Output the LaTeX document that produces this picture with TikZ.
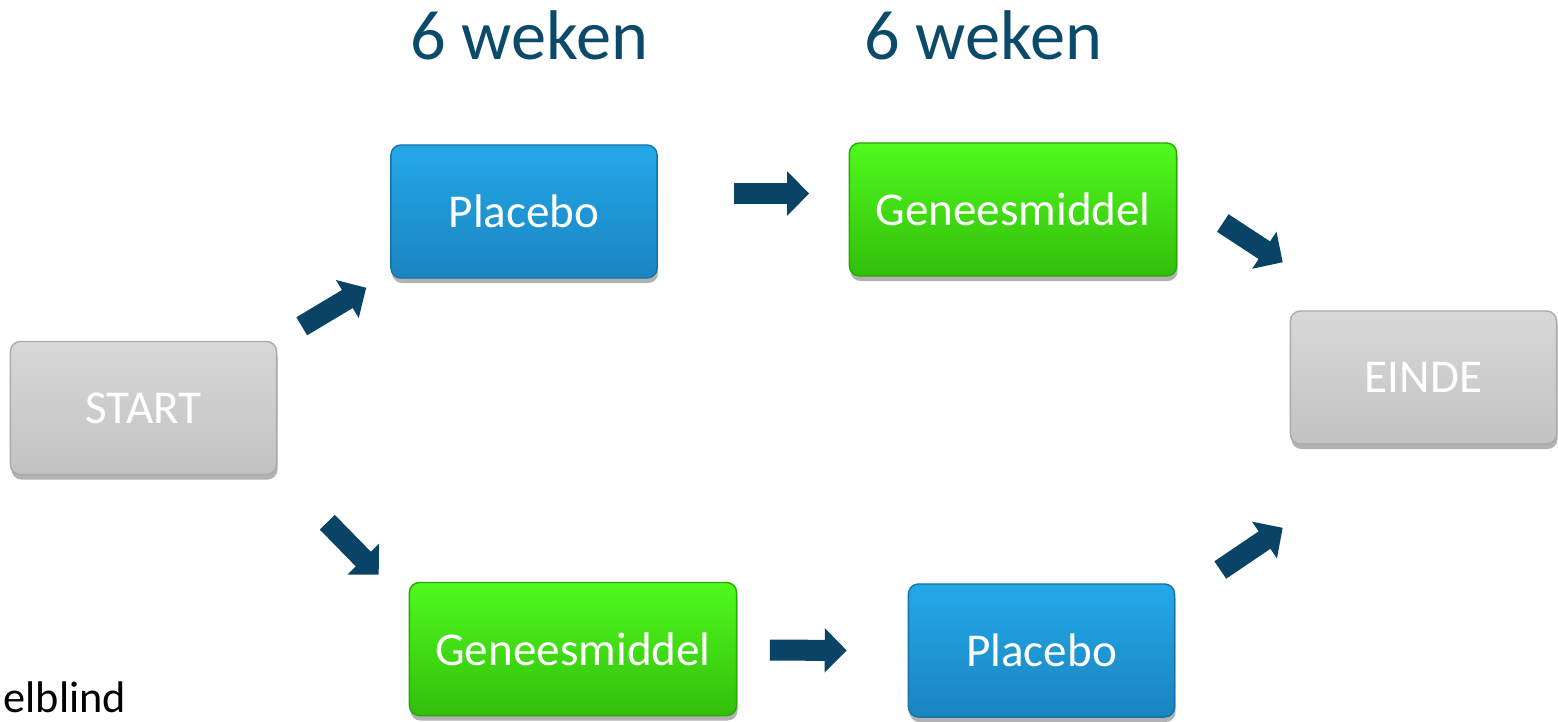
\documentclass[tikz,border=0pt]{standalone}
\usepackage{fontspec}
\setmainfont{Carlito}
\usetikzlibrary{calc, shadows, arrows.meta}
\definecolor{arrowblue}{RGB}{9,68,102}
\definecolor{weekblue}{RGB}{11,74,107}
\tikzstyle{box} = [rounded corners=0.1cm, minimum width=2.66cm, minimum height=1.33cm, text=white, font=\fontsize{13.4}{16}\selectfont, line width=0.4pt, drop shadow={shadow xshift=0.01cm, shadow yshift=-0.05cm, opacity=0.3, fill=black}]
\tikzstyle{placbox} = [box, top color={rgb,255:red,36;green,168;blue,232}, bottom color={rgb,255:red,26;green,132;blue,192}, draw={rgb,255:red,22;green,115;blue,170}]
\tikzstyle{genbox} = [box, minimum width=3.27cm, top color={rgb,255:red,80;green,250;blue,30}, bottom color={rgb,255:red,50;green,190;blue,10}, draw={rgb,255:red,44;green,165;blue,10}]
\tikzstyle{endbox} = [box, top color={rgb,255:red,216;green,216;blue,216}, bottom color={rgb,255:red,194;green,194;blue,194}, draw={rgb,255:red,170;green,170;blue,170}]
\tikzstyle{weeks} = [text=weekblue, font=\fontsize{20}{24}\selectfont]
\tikzstyle{bigarrow} = [draw=arrowblue, line width=0.21cm, -{Triangle[length=0.22cm, width=0.43cm]}]

\begin{document}
\begin{tikzpicture}[x=0.01cm, y=-0.01cm]
        \useasboundingbox (0,0) rectangle (1558,721);
        \node (s) [endbox] at (143.5,408) {START};
        \node (p1) [placbox] at (524,211.5) {Placebo};
        \node (m1) [genbox] at (1013,209.5) {Geneesmiddel};
        \node (e) [endbox] at (1423.5,377.5) {EINDE};
        \node (m2) [genbox] at (573,649) {Geneesmiddel};
        \node (p2) [placbox] at (1041.5,650.5) {Placebo};
        \node (w1) [weeks] at (529,35) {6 weken};
        \node (w2) [weeks] at (983,35) {6 weken};
        \node (db) [anchor=base west, inner sep=0pt, font=\fontsize{12.6}{15}\selectfont] at (3,712) {elblind};
        \draw [bigarrow] ($(s.north east)+(24.5,-14.5)$) -- ($(p1.south west)+(-24,9)$);
        \draw [bigarrow] ($(s.south east)+(50,47)$) -- ($(m2.north west)+(-30,-7)$);
        \draw [bigarrow] ($(p1.east)+(76,-18)$) -- ($(m1.west)+(-39.5,-16)$);
        \draw [bigarrow] ($(m2.east)+(32.5,1)$) -- ($(p2.west)+(-61,0)$);
        \draw [bigarrow] ($(m1.east)+(45.5,13.5)$) -- ($(e.north west)+(-7,-48)$);
        \draw [bigarrow] ($(p2.east)+(45,-80.5)$) -- ($(e.south west)+(-7,83)$);
    \end{tikzpicture}
\end{document}
